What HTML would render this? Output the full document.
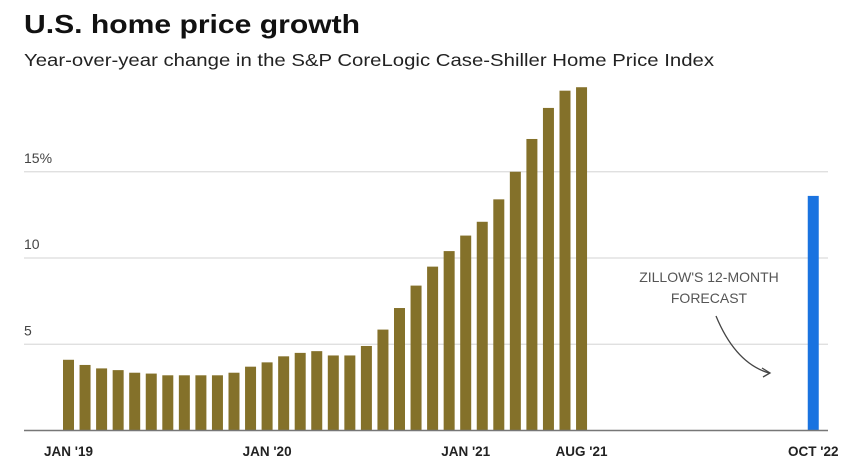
<!DOCTYPE html>
<html><head><meta charset="utf-8"><style>
body{margin:0;background:#fff;}
svg{display:block;font-family:"Liberation Sans",sans-serif;}
</style></head><body>
<svg id="chart" width="854" height="470" viewBox="0 0 854 470">
<text x="24" y="33" font-size="26" font-weight="bold" fill="#111" textLength="336" lengthAdjust="spacingAndGlyphs">U.S. home price growth</text>
<text x="24" y="66" font-size="17.5" fill="#222" textLength="690" lengthAdjust="spacingAndGlyphs">Year-over-year change in the S&amp;P CoreLogic Case-Shiller Home Price Index</text>
<g id="grid"></g>
<g id="bars"></g>
<g id="xlabels"></g>
<text x="709" y="282" font-size="14" fill="#555" text-anchor="middle">ZILLOW'S 12-MONTH</text>
<text x="709" y="303" font-size="14" fill="#555" text-anchor="middle">FORECAST</text>
<path d="M716 316 C728 345 745 366 769 373" fill="none" stroke="#444" stroke-width="1.3"/>
<path d="M762 368 L770 373 L763 377" fill="none" stroke="#444" stroke-width="1.3"/>
</svg>
<script>
const values = [4.1,3.8,3.6,3.5,3.35,3.3,3.2,3.2,3.2,3.2,3.35,3.7,3.95,4.3,4.5,4.6,4.35,4.35,4.9,5.85,7.1,8.4,9.5,10.4,11.3,12.1,13.4,15.0,16.9,18.7,19.7,19.9];
const forecastValue = 13.6;
const forecastMonthIndex = 45;
const yTicks = [5,10,15];
const yTickLabels = ["5","10","15%"];
const xLabelIdx = [0,12,24,31,45];
const xLabelText = ["JAN '19","JAN '20","JAN '21","AUG '21","OCT '22"];

const NS="http://www.w3.org/2000/svg";
const y0=430.5, ppu=17.25, x0=63, step=16.55, bw=11;
function yScale(v){return y0-v*ppu;}
function xScale(i){return x0+i*step;}
function mk(tag,attrs,parent){const e=document.createElementNS(NS,tag);for(const k in attrs)e.setAttribute(k,attrs[k]);document.getElementById(parent).appendChild(e);return e;}

yTicks.forEach((t,i)=>{
  const l=mk('line',{x1:24,x2:828,y1:yScale(t),y2:yScale(t),stroke:'#dcdcdc','stroke-width':1.3},'grid');
  
  
  const tx=mk('text',{x:24,y:yScale(t)-9,'font-size':14,fill:'#444'},'grid');
  tx.textContent=yTickLabels[i];
  
  
});
values.forEach((v,i)=>{
  const r=mk('rect',{x:xScale(i),y:yScale(v),width:bw,height:y0-yScale(v),fill:'#84712a'},'bars');
  
  
});
const fb=mk('rect',{x:xScale(forecastMonthIndex),y:yScale(forecastValue),width:bw,height:y0-yScale(forecastValue),fill:'#1a73e0'},'bars');


const base=mk('line',{x1:24,x2:828,y1:y0,y2:y0,stroke:'#777','stroke-width':1.5},'bars');


xLabelIdx.forEach((idx,i)=>{
  const t=mk('text',{x:xScale(idx)+bw/2,y:456,'font-size':13.5,'font-weight':'bold',fill:'#222','text-anchor':'middle'},'xlabels');
  t.textContent=xLabelText[i];
  
  
});
</script>
</body></html>
